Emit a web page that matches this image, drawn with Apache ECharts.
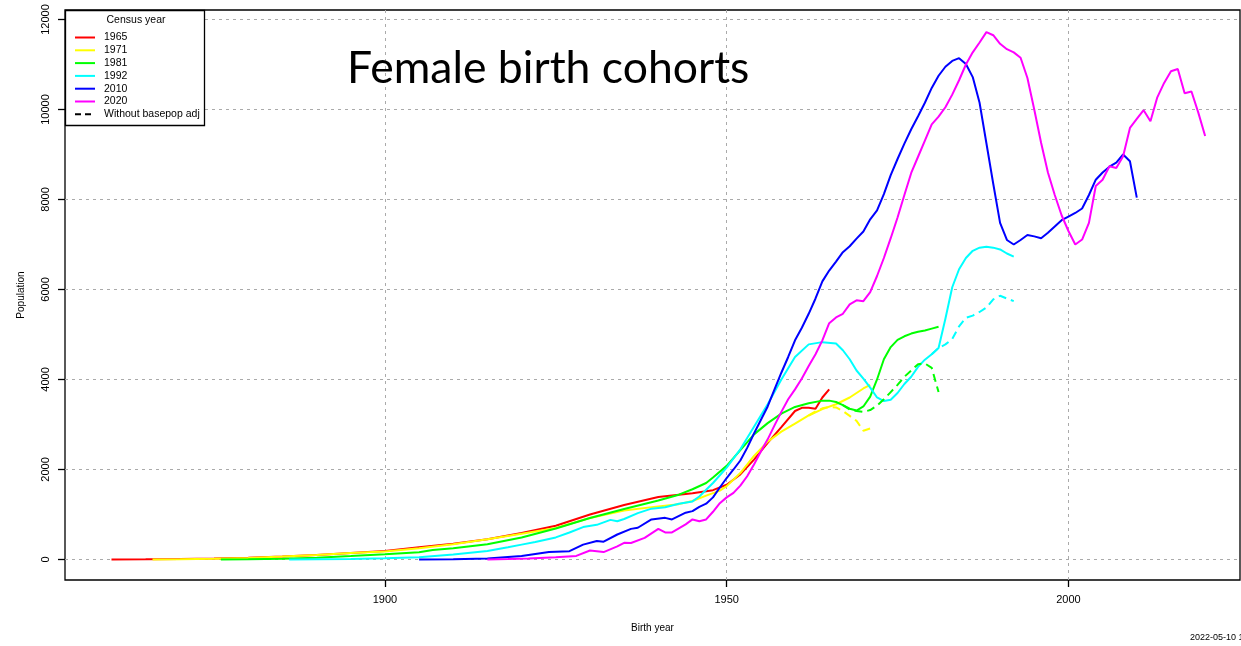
<!DOCTYPE html>
<html>
<head>
<meta charset="utf-8">
<title>Female birth cohorts</title>
<script src="https://cdn.jsdelivr.net/npm/echarts@6/dist/echarts.min.js"></script>
<style>
  html, body { margin: 0; padding: 0; background: #fff; }
  #chart { width: 1241px; height: 646px; }
</style>
</head>
<body>
<div id="chart"></div>
<script>
// census years shown in the legend
var censusYears = ['1965', '1971', '1981', '1992', '2010', '2020'];
var censusColors = ['#ff0000', '#ffff00', '#00ff00', '#00ffff', '#0000ff', '#ff00ff'];

// [birth year, population]
var pop1965 = [[1860,0],[1865,3],[1870,8],[1875,20],[1880,40],[1885,65],[1890,100],[1895,145],[1900,190],
  [1905,270],[1910,350],[1915,450],[1920,590],[1925,750],[1930,1000],[1935,1210],[1940,1390],[1945,1470],
  [1948,1540],[1950,1660],[1952,1890],[1954,2220],[1956,2590],[1958,2940],[1960,3300],[1961,3370],
  [1962,3370],[1963,3350],[1964,3600],[1965,3780]];

var pop1971 = [[1866,0],[1870,5],[1875,15],[1880,35],[1885,65],[1890,100],[1895,145],[1900,180],[1905,250],
  [1910,340],[1915,450],[1920,570],[1925,700],[1930,920],[1935,1090],[1940,1180],[1943,1230],[1945,1300],
  [1947,1420],[1949,1530],[1950,1630],[1952,1920],[1954,2300],[1956,2620],[1958,2840],[1960,3020],
  [1962,3200],[1964,3340],[1966,3450],[1968,3600],[1970,3800],[1971,3880]];
var pop1971NoAdj = [[1962,3200],[1963,3290],[1964,3360],[1965,3390],[1966,3380],[1967,3300],[1968,3190],
  [1969,3080],[1970,2860],[1971,2910]];

var pop1981 = [[1876,0],[1880,5],[1885,15],[1890,40],[1895,75],[1900,115],[1905,160],[1907,210],[1910,250],
  [1915,340],[1920,490],[1925,690],[1930,920],[1935,1120],[1940,1310],[1943,1440],[1945,1560],[1947,1700],
  [1948,1820],[1950,2080],[1952,2430],[1954,2780],[1956,3030],[1958,3240],[1960,3390],[1962,3470],
  [1964,3530],[1965,3530],[1966,3500],[1967,3430],[1968,3350],[1969,3310],[1970,3400],[1971,3620],
  [1972,4000],[1973,4450],[1974,4720],[1975,4880],[1976,4960],[1977,5020],[1978,5060],[1979,5090],
  [1980,5130],[1981,5170]];
var pop1981NoAdj = [[1967,3430],[1968,3330],[1969,3300],[1970,3280],[1971,3320],[1972,3420],[1973,3560],
  [1974,3720],[1975,3880],[1976,4060],[1977,4200],[1978,4340],[1979,4356],[1980,4260],[1981,3720]];

var pop1992 = [[1886,0],[1890,5],[1895,12],[1900,25],[1905,50],[1910,110],[1915,190],[1918,270],[1920,330],
  [1922,390],[1925,490],[1927,600],[1929,720],[1931,770],[1933,880],[1934,850],[1935,900],[1937,1030],
  [1939,1130],[1941,1160],[1943,1240],[1945,1290],[1946,1400],[1948,1700],[1950,2040],[1952,2450],
  [1954,2950],[1956,3450],[1958,4000],[1960,4500],[1962,4780],[1964,4830],[1966,4800],[1967,4650],
  [1968,4450],[1969,4200],[1970,4020],[1971,3820],[1972,3600],[1973,3520],[1974,3550],[1975,3700],
  [1976,3900],[1977,4060],[1978,4280],[1979,4440],[1980,4560],[1981,4700],[1982,5350],[1983,6050],
  [1984,6450],[1985,6700],[1986,6860],[1987,6930],[1988,6950],[1989,6930],[1990,6890],[1991,6800],
  [1992,6730]];
var pop1992NoAdj = [[1980,4560],[1981,4700],[1982,4780],[1983,4900],[1984,5180],[1985,5370],[1986,5420],
  [1987,5500],[1988,5600],[1989,5780],[1990,5860],[1991,5800],[1992,5740]];

var pop2010 = [[1905,0],[1910,5],[1915,20],[1920,75],[1922,120],[1924,165],[1927,185],[1929,330],[1931,410],
  [1932,395],[1934,555],[1936,680],[1937,705],[1939,890],[1941,925],[1942,890],[1944,1040],[1945,1075],
  [1946,1170],[1947,1240],[1948,1380],[1949,1600],[1950,1810],[1951,2000],[1952,2200],[1953,2480],
  [1954,2800],[1955,3100],[1956,3400],[1957,3780],[1958,4150],[1959,4500],[1960,4870],[1961,5150],
  [1962,5460],[1963,5800],[1964,6180],[1965,6420],[1966,6620],[1967,6830],[1968,6960],[1969,7130],
  [1970,7290],[1971,7560],[1972,7760],[1973,8120],[1974,8540],[1975,8900],[1976,9240],[1977,9560],
  [1978,9850],[1979,10150],[1980,10480],[1981,10750],[1982,10950],[1983,11080],[1984,11140],[1985,11010],
  [1986,10720],[1987,10150],[1988,9250],[1989,8350],[1990,7480],[1991,7100],[1992,7000],[1993,7100],
  [1994,7210],[1995,7180],[1996,7140],[1997,7260],[1998,7400],[1999,7540],[2000,7620],[2001,7700],
  [2002,7800],[2003,8100],[2004,8440],[2005,8600],[2006,8730],[2007,8820],[2008,9000],[2009,8850],
  [2010,8040]];

var pop2020 = [[1915,0],[1918,10],[1921,22],[1925,50],[1928,80],[1930,200],[1932,165],[1934,290],[1935,370],
  [1936,365],[1938,480],[1940,680],[1941,600],[1942,600],[1944,780],[1945,890],[1946,850],[1947,890],
  [1948,1060],[1949,1250],[1950,1380],[1951,1480],[1952,1640],[1953,1850],[1954,2110],[1955,2400],
  [1956,2670],[1957,2980],[1958,3280],[1959,3560],[1960,3780],[1961,4020],[1962,4300],[1963,4560],
  [1964,4870],[1965,5250],[1966,5380],[1967,5460],[1968,5670],[1969,5760],[1970,5740],[1971,5940],
  [1972,6300],[1973,6700],[1974,7140],[1975,7600],[1976,8100],[1977,8590],[1978,8950],[1979,9310],
  [1980,9670],[1981,9840],[1982,10050],[1983,10330],[1984,10650],[1985,11000],[1986,11270],[1987,11490],
  [1988,11720],[1989,11650],[1990,11460],[1991,11340],[1992,11270],[1993,11150],[1994,10700],[1995,10000],
  [1996,9260],[1997,8600],[1998,8100],[1999,7650],[2000,7300],[2001,7000],[2002,7110],[2003,7480],
  [2004,8300],[2005,8440],[2006,8740],[2007,8700],[2008,8960],[2009,9590],[2010,9790],[2011,9985],
  [2012,9740],[2013,10270],[2014,10590],[2015,10850],[2016,10900],[2017,10360],[2018,10400],[2019,9930],
  [2020,9410]];

// tick labels
var xTicks = [1900, 1950, 2000];
var yTicks = [0, 2000, 4000, 6000, 8000, 10000, 12000];

var solidData = [pop1965, pop1971, pop1981, pop1992, pop2010, pop2020];
var noAdjData = [null, pop1971NoAdj, pop1981NoAdj, pop1992NoAdj, null, null];

document.addEventListener('DOMContentLoaded', function() {
    var chart = echarts.init(document.getElementById('chart'), null, { renderer: 'canvas' });
    var font = 'Liberation Sans, Arial, sans-serif';

    var series = [];
    censusYears.forEach(function(name, i) {
        series.push({
            name: name,
            type: 'line',
            data: solidData[i],
            symbol: 'none',
            animation: false,
            lineStyle: { color: censusColors[i], width: 2 },
            itemStyle: { color: censusColors[i] }
        });
    });
    // dashed lines: without base population adjustment
    censusYears.forEach(function(name, i) {
        if (!noAdjData[i]) return;
        series.push({
            name: name + ' noadj',
            type: 'line',
            data: noAdjData[i],
            symbol: 'none',
            animation: false,
            lineStyle: { color: censusColors[i], width: 2, type: [8, 5] },
            itemStyle: { color: censusColors[i] }
        });
    });
    // legend-only entry
    series.push({
        name: 'Without basepop adj',
        type: 'line',
        data: [],
        symbol: 'none',
        lineStyle: { color: '#000', width: 2, type: [6, 4] },
        itemStyle: { color: '#000' }
    });

    var legendData = censusYears.map(function(n) { return { name: n }; });
    legendData.push({ name: 'Without basepop adj', lineStyle: { type: [6, 4], color: '#000', width: 2 } });

    var plainNum = function(v) { return String(v); };

    var option = {
        backgroundColor: '#fff',
        animation: false,
        grid: {
            left: 65, top: 10, right: 1, bottom: 66,
            show: true, borderColor: '#000', borderWidth: 1.3
        },
        xAxis: {
            type: 'value',
            min: 1853.2,
            max: 2025.1,
            name: 'Birth year',
            nameLocation: 'middle',
            nameGap: 43,
            nameTextStyle: { fontFamily: font, fontSize: 10, color: '#000' },
            axisLine: { show: false, onZero: false },
            axisTick: { show: true, length: 7, inside: false, customValues: xTicks,
                lineStyle: { color: '#000', width: 1.3 } },
            axisLabel: { customValues: xTicks, formatter: plainNum, fontFamily: font, fontSize: 11,
                color: '#000', margin: 14 },
            splitLine: { show: true, lineStyle: { color: '#aaa', type: [3, 4], width: 1 } }
        },
        yAxis: {
            type: 'value',
            min: -456,
            max: 12211,
            name: 'Population',
            nameLocation: 'middle',
            nameGap: 39,
            nameRotate: 90,
            nameTextStyle: { fontFamily: font, fontSize: 10, color: '#000' },
            axisLine: { show: false, onZero: false },
            axisTick: { show: true, length: 7, inside: false, customValues: yTicks,
                lineStyle: { color: '#000', width: 1.3 } },
            axisLabel: { customValues: yTicks, formatter: plainNum, rotate: 90, fontFamily: font,
                fontSize: 11, color: '#000', margin: 14 },
            splitLine: { show: true, lineStyle: { color: '#aaa', type: [3, 4], width: 1 } }
        },
        legend: {
            data: legendData,
            orient: 'vertical',
            left: 74,
            top: 32,
            padding: 0,
            itemWidth: 20,
            itemHeight: 10,
            itemGap: 1.8,
            selectedMode: false,
            itemStyle: { opacity: 0 },
            textStyle: { fontFamily: font, fontSize: 10.5, lineHeight: 10, color: '#000',
                padding: [0, 0, 0, 4] }
        },
        graphic: [
            {
                type: 'rect',
                shape: { x: 65.5, y: 10.5, width: 139, height: 115 },
                style: { fill: '#fff', stroke: '#000', lineWidth: 1.3 },
                z: 1
            },
            {
                type: 'text',
                x: 136, y: 20,
                style: { text: 'Census year', fontFamily: font, fontSize: 10.5, fill: '#000',
                    align: 'center', verticalAlign: 'middle' },
                z: 2
            },
            {
                type: 'text',
                x: 347, y: 69,
                style: { text: 'Female birth cohorts', fontFamily: 'Lato, Open Sans, sans-serif', fontSize: 44.5,
                    fill: '#000', align: 'left', verticalAlign: 'middle' },
                z: 2
            },
            {
                type: 'text',
                x: 1190, y: 638,
                style: { text: '2022-05-10 16:00', fontFamily: font, fontSize: 9, fill: '#000',
                    align: 'left', verticalAlign: 'middle' },
                z: 2
            }
        ],
        series: series
    };

    chart.setOption(option);

    window.addEventListener('resize', function() {
        chart.resize();
    });
});
</script>
</body>
</html>
